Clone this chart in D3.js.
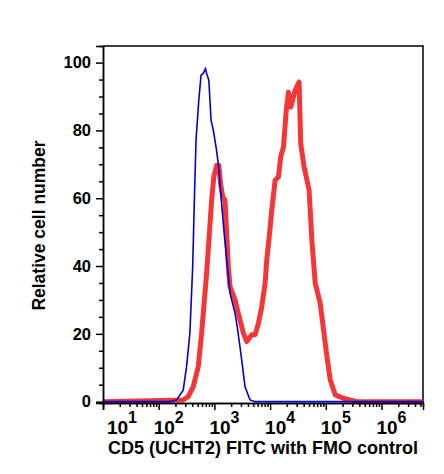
<!DOCTYPE html>
<html>
<head>
<meta charset="utf-8">
<script src="https://cdn.jsdelivr.net/npm/d3@7"></script>
<style>
  body { margin: 0; background: #fff; }
  text { font-family: "Liberation Sans", Arial, Helvetica, sans-serif; font-weight: bold; fill: #000; }
</style>
</head>
<body>
<div id="chart"></div>
<script>
// FMO control (blue): log10 fluorescence / relative count
var fmoLog = [1, 2.20, 2.32, 2.44, 2.50, 2.56, 2.61, 2.64, 2.67, 2.72, 2.76, 2.80, 2.84, 2.86, 2.90, 2.92, 2.94, 2.98, 3.03, 3.07, 3.11, 3.17, 3.23, 3.28, 3.37, 3.41, 3.45, 3.49, 3.55, 3.64, 3.73, 6.745];
var fmoCount = [0, 0, 0.5, 3.4, 10.3, 20.2, 39.8, 59.4, 77.1, 88.9, 96.3, 96.8, 98.2, 96.8, 94.8, 88.9, 83.0, 80.1, 75.1, 70.2, 62.4, 50.6, 40.3, 32.0, 26.1, 22.1, 17.3, 12.3, 4.4, 0.5, 0, 0];

// CD5 stained (red)
var cd5Log = [1, 2.44, 2.53, 2.62, 2.71, 2.77, 2.82, 2.86, 2.91, 2.95, 2.99, 3.04, 3.08, 3.11, 3.15, 3.19, 3.22, 3.25, 3.28, 3.37, 3.43, 3.52, 3.58, 3.67, 3.73, 3.79, 3.85, 3.91, 3.94, 3.99, 4.03, 4.09, 4.15, 4.19, 4.24, 4.29, 4.33, 4.37, 4.45, 4.52, 4.55, 4.61, 4.70, 4.75, 4.81, 4.90, 4.96, 5.02, 5.08, 5.17, 5.31, 5.56, 6.745];
var cd5Count = [0, 0.5, 1.5, 4.4, 10.3, 20.2, 30.0, 37.8, 49.6, 59.4, 66.3, 69.7, 69.7, 64.3, 60.4, 59.4, 49.6, 39.8, 33.9, 30.0, 26.0, 20.2, 17.7, 19.7, 19.7, 23.1, 28.0, 34.9, 41.8, 49.6, 56.5, 65.3, 66.3, 72.2, 75.1, 85.9, 91.3, 86.9, 91.8, 94.3, 76.1, 69.2, 62.4, 47.6, 34.9, 29.0, 21.1, 13.3, 6.4, 2.0, 1.0, 0, 0];

var yTicks = [0, 20, 40, 60, 80, 100];
var xDecades = [1, 2, 3, 4, 5, 6];

var width = 444, height = 474;
var margin = {top: 46, right: 21, bottom: 71, left: 103};

var svg = d3.select("#chart").append("svg")
    .attr("width", width)
    .attr("height", height);

var x = d3.scaleLog()
    .domain([10, Math.pow(10, 6.745)])
    .range([margin.left, width - margin.right]);

var y = d3.scaleLinear()
    .domain([-0.4, 104.9])
    .range([height - margin.bottom, margin.top]);

var x0 = margin.left, x1 = width - margin.right;
var y0 = height - margin.bottom, y1 = margin.top;

// box (top + right)
svg.append("path")
    .attr("d", "M" + x0 + "," + y1 + "H" + x1 + "V" + y0)
    .attr("fill", "none")
    .attr("stroke", "#000")
    .attr("stroke-width", 1.5);

// curves
var line = d3.line()
    .x(function(d) { return x(Math.pow(10, d[0])); })
    .y(function(d) { return y(d[1]); });

svg.append("path")
    .datum(d3.zip(cd5Log, cd5Count))
    .attr("d", line)
    .attr("fill", "none")
    .attr("stroke", "#f53636")
    .attr("stroke-width", 5)
    .attr("stroke-linejoin", "round");

svg.append("path")
    .datum(d3.zip(fmoLog, fmoCount))
    .attr("d", line)
    .attr("fill", "none")
    .attr("stroke", "#0000d8")
    .attr("stroke-width", 1.6);

// y axis
var yMinor = d3.range(0, 101, 5).filter(function(v) { return v % 20 !== 0; });
svg.append("g")
    .attr("transform", "translate(" + x0 + ",0)")
    .call(d3.axisLeft(y).tickValues(yMinor).tickSize(4).tickFormat(""));
var yAxis = svg.append("g")
    .attr("transform", "translate(" + x0 + ",0)")
    .call(d3.axisLeft(y).tickValues(yTicks).tickSize(7).tickPadding(5));
yAxis.selectAll("text").style("font-size", "16.5px");

// x axis
var xMinor = [];
xDecades.concat([0]).forEach(function(e) {
  for (var m = 2; m <= 9; m++) {
    var v = m * Math.pow(10, e);
    if (v > x.domain()[0] && v < x.domain()[1]) xMinor.push(v);
  }
});
svg.append("g")
    .attr("transform", "translate(0," + y0 + ")")
    .call(d3.axisBottom(x).tickValues(xMinor).tickSize(4).tickFormat(""));
svg.append("g")
    .attr("transform", "translate(0," + y0 + ")")
    .call(d3.axisBottom(x).tickValues(xDecades.map(function(e) { return Math.pow(10, e); })).tickSize(7).tickFormat(""));

svg.selectAll(".domain, .tick line").attr("stroke-width", 1.5);

// decade labels 10^n
xDecades.forEach(function(e) {
  var t = svg.append("text")
      .attr("x", x(Math.pow(10, e)) + (e === 1 ? 19 : 10))
      .attr("y", 434)
      .attr("text-anchor", "middle")
      .style("font-size", "19px");
  t.append("tspan").text("10");
  t.append("tspan").text(e).attr("dy", -11).style("font-size", "16px");
});

// axis titles
svg.append("text")
    .attr("x", (x0 + x1) / 2 + 0)
    .attr("y", 454)
    .attr("text-anchor", "middle")
    .style("font-size", "18px")
    .text("CD5 (UCHT2) FITC with FMO control");

svg.append("text")
    .attr("transform", "translate(45," + ((y0 + y1) / 2 + 1) + ") rotate(-90)")
    .attr("text-anchor", "middle")
    .style("font-size", "17.5px")
    .text("Relative cell number");
</script>
</body>
</html>
